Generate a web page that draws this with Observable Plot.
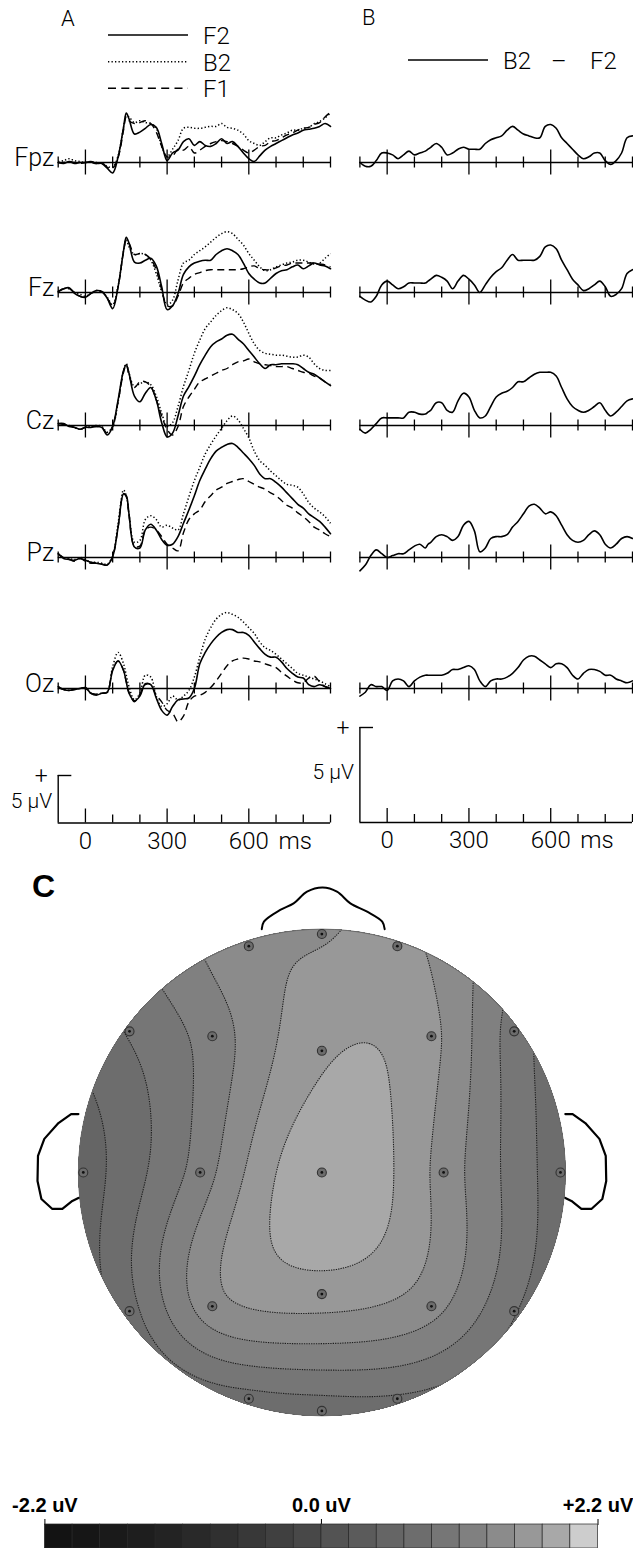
<!DOCTYPE html>
<html><head><meta charset="utf-8">
<script src="https://cdn.jsdelivr.net/npm/d3@7"></script>
<script src="https://cdn.jsdelivr.net/npm/@observablehq/plot@0.6"></script>
<style>
html,body{margin:0;padding:0;background:#fff;}
#root{position:relative;width:633px;height:1548px;overflow:hidden;background:#fff;font-family:Roboto,"DejaVu Sans",sans-serif;}
#root svg{overflow:visible;}
.lbl{position:absolute;white-space:pre;line-height:1;}
</style></head><body><div id="root"></div>
<script>
// ---------------- DATA ----------------
const times = [-100,-80,-60,-40,-20,0,20,40,60,80,100,120,140,150,160,180,200,220,240,260,280,300,320,340,360,380,400,420,440,460,480,500,520,540,560,580,600,620,640,660,680,700,720,740,760,780,800,820,840,860,880,900];
const channels = ["Fpz","Fz","Cz","Pz","Oz"];

// Panel A (µV, positive up)
const fpzF2 = [0,-0.1,0.1,-0.1,0,0,0.1,-0.1,-0.1,-0.6,-1.1,0.6,3.7, 5.2, 4.6,3.0,3.2,3.6,4.0,3.7,2.0,0.2,1.0,1.3, 2.2,2.5,1.8,2.2,1.8,1.7,2.0,2.5,2.0,2.2, 1.7,1.0,0.4,0.1,0.7,1.3,1.7,2.0,2.3,2.6, 2.9,3.1,3.4,3.5,3.6,3.8,4.1,3.8];
const fpzB2 = [0.1,0.2,0.4,0.2,0.1,0,0.1,0,-0.1,-0.4,-0.5,0.7,3.7, 4.9, 4.8,4.2,4.4,4.2,4.1,3.6,1.7,0.6,1.4,2.3, 3.6,3.7,3.6,3.6,3.7,3.8,3.8,4.1,3.7,3.6, 3.4,3.0,2.3,2.0,1.8,2.2,2.6,2.6,2.9,3.1, 3.4,3.4,3.6,3.7,4.1,4.3,4.7,5.2];
const fpzF1 = [0,0,0.1,0,-0.1,0,0,-0.1,0,-0.5,-0.6,0.5,3.4, 4.8, 4.4,4.1,4.2,4.4,4.1,3.2,1.7,0.6,0.7,1.4, 1.3,1.7,1.0,1.3,1.7,2.0,2.2,2.3,2.2,2.0, 1.7,1.3,1.0,1.3,1.7,1.8,2.2,2.3,2.6,2.9, 3.1,3.4,3.6,3.7,4.0,4.2,4.8,5.3];
const fzF2 = [0.1,0.4,0.5,-0.1,-0.4,-0.5,-0.1,0.2,0.1,-0.6,-1.7,0.6,4.4, 5.8, 5.2,3.2,3.1,3.4,3.6,2.8,0.6,-1.8,-1.4,-0.1, 1.9,2.7,3.1,3.3,3.4,3.4,4.0,4.4,4.6,4.4, 4.0,3.1,2.0,1.4,1.0,1.0,1.5,2.0,2.3,2.4, 2.7,2.9,2.5,2.8,3.1,2.9,2.8,2.5];
const fzB2 = [0.1,0.4,0.4,0,-0.2,-0.4,-0.1,0.2,0.1,-0.5,-1.3,0.7,4.4, 5.6, 4.8,4.0,4.1,4.0,3.4,2.0,0.1,-1.3,-0.8,1.3, 3.1,3.4,4.0,4.4,4.8,5.3,5.8,6.2,6.4,6.2, 5.6,5.0,4.1,3.4,2.7,2.3,2.4,2.7,2.9,3.1, 3.2,3.4,3.4,3.2,3.0,3.1,3.6,4.1];
const fzF1 = [0.1,0.4,0.4,0,-0.4,-0.5,-0.1,0.1,0.1,-0.6,-1.4,0.6,4.3, 5.5, 5.2,4.0,4.1,4.0,3.5,2.4,0.3,-1.4,-1.4,-0.4, 1.0,1.5,1.9,2.1,2.3,2.4,2.4,2.4,2.4,2.4, 2.4,2.5,2.7,2.8,2.5,2.4,2.4,2.6,2.8,2.9, 3.1,3.1,3.1,3.1,3.1,3.0,2.9,2.7];
const czF2 = [0.2,0.2,-0.1,-0.2,-0.4,-0.2,-0.2,-0.1,-0.2,-1.0,-0.1,2.7,5.8, 6.4, 5.5,3.1,2.5,3.4,4.0,2.7,0.3,-1.2,-0.8,1.0, 3.1,4.1,5.2,6.4,7.4,8.3,8.8,9.1,9.5,9.6, 9.1,8.6,7.9,7.2,6.5,6.0,6.4,6.4,6.5,6.5, 6.5,6.4,6.0,5.6,5.4,5.0,4.6,4.2];
const czB2 = [0.2,0.1,0,-0.2,-0.4,-0.2,-0.1,0,-0.1,-0.7,-0.1,2.5,5.8, 6.5, 5.5,4.1,4.4,4.6,4.3,3.1,1.3,-0.1,0.3,2.0, 4.1,5.8,7.6,9.0,10.2,10.9,11.6,12.1,12.4,12.2, 11.8,10.9,9.7,8.6,7.9,7.6,7.5,7.4,7.4,7.3, 7.2,7.2,7.4,7.2,6.5,6.0,5.8,5.8];
const czF1 = [0.2,0.1,0,-0.2,-0.4,-0.2,-0.1,-0.1,-0.2,-0.8,-0.1,2.5,5.6, 6.4, 5.3,4.0,4.6,4.6,4.1,2.7,1.0,-0.4,-1.0,-0.1, 2.0,3.0,3.8,4.6,4.9,5.2,5.5,5.8,6.0,6.4, 6.7,6.8,7.0,6.7,6.5,6.4,6.3,6.2,6.2,6.2, 6.0,5.8,5.6,5.5,5.2,5.0,4.6,4.3];
const pzF2 = [0.4,-0.1,-0.2,-0.3,-0.1,-0.3,-0.5,-0.6,-0.7,-0.8,0.1,3.2,6.7, 6.5, 4.6,1.1,1.0,2.9,3.5,2.9,1.9,1.3,1.4,2.2, 3.6,5.0,6.5,8.1,9.3,10.4,11.2,11.6,11.9,12.0, 11.6,11.0,10.4,9.7,8.8,8.3,8.3,7.9,7.4,6.8, 6.2,5.6,5.2,4.6,4.2,3.8,3.2,2.5];
const pzB2 = [0.4,0,-0.1,-0.2,0,-0.2,-0.5,-0.5,-0.6,-0.7,0.2,3.6,7.1, 6.5, 4.6,1.6,1.8,4.0,4.4,4.0,3.2,3.4,3.1,2.9, 4.6,6.4,8.1,9.5,10.9,11.9,12.8,13.6,14.4,14.9, 14.5,13.6,12.6,11.2,10.2,9.7,9.1,8.6,8.1,7.7, 7.6,7.4,6.7,5.8,5.2,4.8,4.3,3.6];
const pzF1 = [0.4,0,-0.2,-0.4,-0.1,-0.4,-0.6,-0.6,-0.7,-0.8,0.1,3.2,6.7, 6.4, 4.4,1.2,1.2,2.9,3.2,2.9,2.2,1.4,1.0,0.7, 2.6,4.0,4.6,5.0,5.9,6.5,7.1,7.4,7.8,8.0, 8.2,8.3,8.0,7.7,7.4,7.2,6.8,6.5,6.0,5.5, 5.2,4.7,4.3,3.8,3.2,2.9,2.5,2.2];
const ozF2 = [0.2,-0.1,-0.2,-0.1,0,0.1,-0.5,-0.7,-0.5,-0.4,1.9,2.9,1.9, 0.7, -0.5,-1.3,-0.8,0.5,0.4,-1.0,-2.3,-2.8,-1.9,-1.2, -1.1,-1.0,0.0,2.6,3.8,4.7,5.4,5.9,6.2,6.2, 5.9,5.9,5.6,4.9,4.2,3.6,3.3,3.3,2.8,2.1, 1.6,1.2,1.1,0.4,0.2,0.4,0.2,0];
const ozB2 = [0.2,-0.1,-0.2,-0.1,0,0.1,-0.5,-0.6,-0.5,-0.4,2.3,3.8,2.6, 1.4, 0.2,-1.2,-0.5,1.4,1.2,-0.8,-1.9,-1.6,-0.8,-1.2, -0.8,-0.2,1.2,3.3,5.2,6.4,7.3,7.8,8.0,7.8, 7.5,7.0,6.4,5.8,4.9,4.3,4.0,3.6,3.1,2.6, 2.1,1.6,1.4,1.2,1.0,0.8,0.5,0.2];
const ozF1 = [0.1,-0.1,-0.2,-0.1,0,0,-0.5,-0.6,-0.5,-0.4,2.0,2.9,1.9, 0.7, -0.4,-1.4,-0.6,0.4,0.4,-0.7,-1.4,-2.3,-2.6,-3.5, -2.9,-1.4,-0.8,-0.7,-0.4,0.1,0.8,1.6,2.4,2.9, 3.1,3.2,3.1,2.9,2.8,2.6,2.4,2.2,1.7,1.3, 0.9,0.6,0.6,1.1,1.3,0.7,0.2,0];

// Panel B: B2 − F2 difference (µV)
const fpzDiff = [0,-0.2,-0.2,0.1,0.5,0.5,0.4,0.2,0.4,0.6,0.4,0.5,0.6, 0.7, 0.8,1.0,0.8,0.4,0.5,0.7,0.8,0.7,0.7,0.7, 1.0,1.2,1.3,1.4,1.7,1.9,1.7,1.5,1.4,1.3, 1.3,1.9,2.0,1.8,1.3,1.0,0.7,0.4,0.2,0.3, 0.5,0.5,0.1,-0.1,0.1,0.5,1.3,1.4];
const fzDiff = [-0.2,-0.4,-0.5,-0.2,0.4,0.6,0.4,0.2,0.3,0.5,0.5,0.5,0.5, 0.6, 0.7,0.9,0.8,0.6,0.2,0.6,0.9,0.7,0.4,0, 0.4,0.8,1.1,1.3,1.7,2.0,1.7,1.7,1.7,1.7, 1.9,2.4,2.5,2.3,1.7,1.2,0.7,0.4,0.1,0.2, 0.4,0.6,0.3,-0.2,-0.1,0.2,1.0,1.2];
const czDiff = [-0.2,-0.4,-0.2,0.1,0.4,0.4,0.4,0.4,0.4,0.7,0.7,0.6,0.6, 0.7, 0.8,1.2,1.2,0.8,0.7,1.3,1.7,1.5,0.8,0.4, 0.5,1.0,1.5,1.7,1.8,2.0,2.3,2.3,2.5,2.7, 2.8,2.8,2.8,2.6,2.0,1.4,1.0,0.8,0.7,0.8, 1.0,1.2,0.8,0.5,0.7,1.0,1.3,1.4];
const pzDiff = [-0.7,-0.4,0.1,0.4,0.2,0,0.1,0.2,0.2,0.4,0.6,0.7,0.5, 0.7, 0.8,1.1,1.2,1.1,0.9,1.1,1.7,1.9,1.4,0.3, 0.5,1.0,1.1,1.1,1.2,1.6,1.9,2.3,2.7,2.8, 2.6,2.3,2.4,2.2,1.7,1.2,0.9,0.8,0.9,1.2, 1.4,1.2,0.7,0.5,0.7,1.0,1.1,1.0];
const ozDiff = [-0.4,-0.2,0.2,0.1,0.1,-0.1,0.4,0.5,0.4,0.1,0.4,0.6,0.7, 0.7, 0.7,0.7,0.7,0.8,1.0,1.0,1.1,1.2,1.0,0.4, 0.1,0.4,0.5,0.5,0.6,0.8,1.1,1.5,1.7,1.7, 1.5,1.3,1.1,1.3,1.3,1.1,0.7,0.5,0.8,1.0, 1.0,0.9,0.7,0.7,0.5,0.4,0.3,0.4];

// time axis ticks
const tickTimes = [-100,0,100,200,300,400,500,600,700,800,900];
const majorTicks = [0,300,600];
const scaleLabels = ["0","300","600","ms"];
const scaleLabelTimes = [0,300,600,770];

// Panel C: electrodes (head-radius units, nose up) and B2−F2 amplitude (µV)
const elecName = ["Fp1","Fpz","Fp2","F7","F3","Fz","F4","F8","T3","C3","Cz","C4","T4","T5","P3","Pz","P4","T6","O1","Oz","O2"];
const elecX = [-0.30,0,0.31,-0.79,-0.45,0,0.45,0.79,-0.98,-0.50,0,0.50,0.98,-0.79,-0.45,0,0.45,0.79,-0.30,0,0.31];
const elecY = [0.93,0.98,0.93,0.58,0.56,0.50,0.56,0.58,0,0,0,0,0,-0.57,-0.55,-0.50,-0.55,-0.57,-0.93,-0.98,-0.93];
const elecV = [1.48,1.52,1.6,0.9,1.2,1.72,1.6,1.0,0.55,1.2,1.95,1.45,0.75,0.8,1.45,1.65,1.4,0.9,0.8,0.75,0.85];
const noseX = [-0.247,-0.238,-0.171,-0.116,-0.061,0.003,0.062,0.117,0.186,0.248,0.258];
const noseY = [1.0,1.031,1.079,1.106,1.154,1.171,1.154,1.106,1.072,1.031,1.0];
const earX = [-1.0,-1.03,-1.082,-1.14,-1.166,-1.168,-1.152,-1.107,-1.066,-1.025,-1.0];
const earY = [0.24,0.24,0.203,0.138,0.068,-0.035,-0.109,-0.15,-0.15,-0.117,-0.105];

// colour bar
const cbEdges = [-2.2,-1.98,-1.76,-1.54,-1.32,-1.1,-0.88,-0.66,-0.44,-0.22,0,0.22,0.44,0.66,0.88,1.1,1.32,1.54,1.76,1.98,2.2];
const cbLevels = [-1.98,-1.76,-1.54,-1.32,-1.1,-0.88,-0.66,-0.44,-0.22,0,0.22,0.44,0.66,0.88,1.1,1.32,1.54,1.76,1.98];
const cbGrays = ["#131313","#161616","#1a1a1a","#1e1e1e","#232323","#292929","#303030","#383838","#404040","#484848","#535353","#5b5b5b","#656565","#6d6d6d","#767676","#808080","#8b8b8b","#989898","#a8a8a8","#cdcdcd"];
const cbTicks = [-2.2,0,2.2];
const cbLabels = ["-2.2 uV","0.0 uV","+2.2 uV"];

// ---------------- CHECKS ----------------
const allSeries = {fpzF2,fpzB2,fpzF1,fzF2,fzB2,fzF1,czF2,czB2,czF1,pzF2,pzB2,pzF1,ozF2,ozB2,ozF1,fpzDiff,fzDiff,czDiff,pzDiff,ozDiff};
for (const [k,v] of Object.entries(allSeries)) if (v.length !== times.length) throw new Error(k + " has " + v.length);

// ---------------- LAYOUT HELPERS ----------------
const root = document.getElementById("root");
function place(el, left, top) { el.style.position = "absolute"; el.style.left = left + "px"; el.style.top = top + "px"; root.appendChild(el); }
function rows(arr) { return times.map((t, i) => ({t, v: arr[i]})); }
const baseStyle = {background: "transparent", overflow: "visible", fontFamily: "Roboto, 'DejaVu Sans', sans-serif"};
const majorSet = new Set(majorTicks);
const SOLID = {strokeWidth: 1.6};
const DOT = {strokeWidth: 1.5, strokeDasharray: "1.3,2.2", strokeLinecap: "butt"};
const DASH = {strokeWidth: 1.4, strokeDasharray: "7,4.5", strokeLinecap: "butt"};

const pxA = 9.5, pxB = 19;
const baselines = [162.3, 292.4, 425.4, 557.2, 688.3];
const colA = {left: 0, width: 340, mL: 57.7, mR: 10};
const colB = {left: 340, width: 293, mL: 19.4, mR: 1};

function tracePlot({col, ppu, ymin, ymax, baseline, series, label}) {
  const h = (ymax - ymin) * ppu;
  const half = d => (majorSet.has(d) ? 12.5 : 5.5) / ppu;
  const marks = [
    Plot.ruleY([0], {stroke: "#000", strokeWidth: 1.4}),
    Plot.ruleX(tickTimes, {x: d => d, y1: d => -half(d), y2: d => half(d), stroke: "#000", strokeWidth: 1.3})
  ];
  for (const s of series) marks.push(Plot.line(rows(s.data), {x: "t", y: "v", stroke: "#000", curve: "catmull-rom", ...s.style}));
  if (label) marks.push(Plot.text([label], {x: -100, y: 0, text: d => d, textAnchor: "end", dx: -4, dy: -5, fontSize: 25, fontWeight: 300}));
  const svg = Plot.plot({
    width: col.width, height: h, marginLeft: col.mL, marginRight: col.mR, marginTop: 0, marginBottom: 0,
    x: {domain: [-100, 900], axis: null}, y: {domain: [ymin, ymax], axis: null},
    style: baseStyle, marks
  });
  place(svg, col.left, baseline - ymax * ppu);
}

const groupsA = [[fpzF2,fpzB2,fpzF1],[fzF2,fzB2,fzF1],[czF2,czB2,czF1],[pzF2,pzB2,pzF1],[ozF2,ozB2,ozF1]];
const diffs = [fpzDiff,fzDiff,czDiff,pzDiff,ozDiff];
channels.forEach((ch, i) => {
  const [f2, b2, f1] = groupsA[i];
  tracePlot({col: colA, ppu: pxA, ymin: -5, ymax: 16, baseline: baselines[i], label: ch,
    series: [{data: b2, style: DOT}, {data: f1, style: DASH}, {data: f2, style: SOLID}]});
  tracePlot({col: colB, ppu: pxB, ymin: -2, ymax: 4, baseline: baselines[i],
    series: [{data: diffs[i], style: SOLID}]});
});

// calibration bars and time axes
function scaleBar({col, ppu, axisY, uvDy}) {
  const h = 5 * ppu;
  const up = d => (majorSet.has(d) ? 14 : 8) / ppu;
  const lab = scaleLabels.map((l, i) => ({l, t: scaleLabelTimes[i]}));
  const svg = Plot.plot({
    width: col.width, height: h, marginLeft: col.mL, marginRight: col.mR, marginTop: 0, marginBottom: 0,
    x: {domain: [-100, 900], axis: null}, y: {domain: [0, 5], axis: null},
    style: baseStyle,
    marks: [
      Plot.ruleY([0], {stroke: "#000", strokeWidth: 1.4}),
      Plot.ruleX([-100], {y1: 0, y2: 5, stroke: "#000", strokeWidth: 1.4}),
      Plot.ruleY([5], {x1: -100, x2: -50, stroke: "#000", strokeWidth: 1.4}),
      Plot.ruleX(tickTimes.filter(t => t > -100), {x: d => d, y1: 0, y2: up, stroke: "#000", strokeWidth: 1.3}),
      Plot.text(lab, {x: "t", y: 0, text: "l", dy: 18, fontSize: 24, fontWeight: 300}),
      Plot.text(["+"], {x: -100, y: 5, text: d => d, dx: -17, dy: 1, fontSize: 23, fontWeight: 300}),
      Plot.text(["5 μV"], {x: -100, y: 0, text: d => d, textAnchor: "end", dx: -6, dy: uvDy, fontSize: 21, fontWeight: 300})
    ]
  });
  place(svg, col.left, axisY - h);
}
scaleBar({col: colA, ppu: pxA, axisY: 822.7, uvDy: -22});
scaleBar({col: colB, ppu: pxB, axisY: 821.7, uvDy: -50});

// legends & panel letters
function addText(txt, left, top, size, extra) {
  const d = document.createElement("div"); d.className = "lbl"; d.textContent = txt;
  d.style.left = left + "px"; d.style.top = top + "px"; d.style.fontSize = size + "px";
  Object.assign(d.style, extra || {}); root.appendChild(d); return d;
}
const light = {fontFamily: "Roboto, 'DejaVu Sans', sans-serif", fontWeight: "300"};
addText("A", 61, 8, 22, light);
addText("B", 362, 7, 22, light);
const legNS = "http://www.w3.org/2000/svg";
const leg = document.createElementNS(legNS, "svg");
leg.setAttribute("width", "633"); leg.setAttribute("height", "110");
leg.innerHTML = `
 <line x1="108" x2="188" y1="35" y2="35" stroke="#000" stroke-width="1.6"/>
 <line x1="108" x2="188" y1="61.7" y2="61.7" stroke="#000" stroke-width="1.5" stroke-dasharray="1.3,2.2"/>
 <line x1="108" x2="188" y1="88.3" y2="88.3" stroke="#000" stroke-width="1.4" stroke-dasharray="8,5.3"/>
 <line x1="408" x2="488" y1="60" y2="60" stroke="#000" stroke-width="1.6"/>`;
place(leg, 0, 0);
addText("F2", 203, 24, 24, light);
addText("B2", 203, 51, 24, light);
addText("F1", 203, 77, 24, light);
addText("B2", 503, 49, 24, light);
addText("–", 551, 49, 24, light);
addText("F2", 590, 49, 24, light);
addText("C", 32, 870, 32, {fontFamily: "'Liberation Sans', Arial, sans-serif", fontWeight: "bold"});

// ---------------- TOPOGRAPHIC MAP ----------------
function thinPlate(xs, ys, vs) {
  const n = xs.length, N = n + 3;
  const phi = (dx, dy) => { const r2 = dx*dx + dy*dy; return r2 > 1e-12 ? 0.5 * r2 * Math.log(r2) : 0; };
  const M = Array.from({length: N}, () => new Array(N + 1).fill(0));
  for (let i = 0; i < n; i++) {
    for (let j = 0; j < n; j++) M[i][j] = phi(xs[i]-xs[j], ys[i]-ys[j]);
    M[i][n] = 1; M[i][n+1] = xs[i]; M[i][n+2] = ys[i];
    M[n][i] = 1; M[n+1][i] = xs[i]; M[n+2][i] = ys[i];
    M[i][N] = vs[i];
  }
  for (let c = 0; c < N; c++) {
    let p = c;
    for (let r = c + 1; r < N; r++) if (Math.abs(M[r][c]) > Math.abs(M[p][c])) p = r;
    [M[c], M[p]] = [M[p], M[c]];
    for (let r = 0; r < N; r++) if (r !== c) {
      const f = M[r][c] / M[c][c];
      if (f) for (let k = c; k <= N; k++) M[r][k] -= f * M[c][k];
    }
  }
  const w = M.map((row, i) => row[N] / row[i]);
  return (x, y) => { let s = w[n] + w[n+1]*x + w[n+2]*y; for (let i = 0; i < n; i++) s += w[i] * phi(x - xs[i], y - ys[i]); return s; };
}
const field = thinPlate(elecX, elecY, elecV);
const elecIdx = elecName.map((_, i) => i);
const rim = d3.range(0, 361, 3).map(a => [Math.cos(a * Math.PI / 180), Math.sin(a * Math.PI / 180)]);
const nose = noseX.map((x, i) => [x, noseY[i]]);
const earL = earX.map((x, i) => [x, earY[i]]);
const earR = earX.map((x, i) => [-x, earY[i]]);
const colorOpts = {type: "threshold", domain: cbLevels, range: cbGrays};

const head = Plot.plot({
  width: 633, height: 545, marginLeft: 0, marginRight: 0, marginTop: 0, marginBottom: 0,
  x: {domain: [-1.32, 1.28], axis: null}, y: {domain: [-1.04, 1.2], axis: null},
  color: colorOpts, style: baseStyle,
  marks: [
    Plot.contour({x1: -1.06, x2: 1.06, y1: -1.06, y2: 1.06, fill: field, thresholds: cbLevels, pixelSize: 2,
      stroke: "#1e1e1e", strokeWidth: 1.1, strokeDasharray: "1.3,1.1", strokeLinecap: "butt"}),
    Plot.line(rim, {x: d => d[0], y: d => d[1], stroke: "#6a6a6a", strokeWidth: 1}),
    Plot.line(nose, {x: d => d[0], y: d => d[1], stroke: "#000", strokeWidth: 2, curve: "catmull-rom"}),
    Plot.line(earL, {x: d => d[0], y: d => d[1], stroke: "#000", strokeWidth: 2.2, curve: "linear"}),
    Plot.line(earR, {x: d => d[0], y: d => d[1], stroke: "#000", strokeWidth: 2.2, curve: "linear"}),
    Plot.dot(elecIdx, {x: i => elecX[i], y: i => elecY[i], r: 4.5, fill: "#6c6c6c", stroke: "#333", strokeWidth: 1.1}),
    Plot.dot(elecIdx, {x: i => elecX[i], y: i => elecY[i], r: 1.4, fill: "#111", stroke: "none"})
  ]
});
{
  const sx = head.scale("x"), sy = head.scale("y");
  const X = d3.scaleLinear(sx.domain, sx.range), Y = d3.scaleLinear(sy.domain, sy.range);
  const defs = document.createElementNS(legNS, "defs");
  const cp = document.createElementNS(legNS, "clipPath"); cp.setAttribute("id", "headclip");
  const c = document.createElementNS(legNS, "circle");
  c.setAttribute("cx", X(0)); c.setAttribute("cy", Y(0)); c.setAttribute("r", X(1) - X(0));
  cp.appendChild(c); defs.appendChild(cp); head.insertBefore(defs, head.firstChild);
  const g = head.querySelector('g[aria-label="contour"]');
  if (g) g.setAttribute("clip-path", "url(#headclip)");
}
place(head, 0, 1171.5 - 1.2 * (545 / 2.24));

// ---------------- COLOUR BAR ----------------
const cells = cbEdges.slice(0, -1).map((x1, i) => ({x1, x2: cbEdges[i + 1], mid: (x1 + cbEdges[i + 1]) / 2}));
const labelOf = new Map(cbTicks.map((t, i) => [t, cbLabels[i]]));
const cbar = Plot.plot({
  width: 633, height: 58, marginLeft: 44.4, marginRight: 35.5, marginTop: 34, marginBottom: 0,
  x: {domain: [-2.2, 2.2], axis: "top", ticks: cbTicks, tickFormat: d => labelOf.get(d), tickSize: 6, tickPadding: 7, label: null},
  y: {domain: [0, 1], axis: null},
  color: colorOpts,
  style: {background: "transparent", overflow: "visible", fontFamily: "'Liberation Sans', Arial, sans-serif", fontSize: "20px", fontWeight: "bold", color: "#000"},
  marks: [Plot.rect(cells, {x1: "x1", x2: "x2", y1: 0, y2: 1, fill: "mid", stroke: "#262626", strokeWidth: 0.7})]
});
place(cbar, 0, 1490);
</script></body></html>
